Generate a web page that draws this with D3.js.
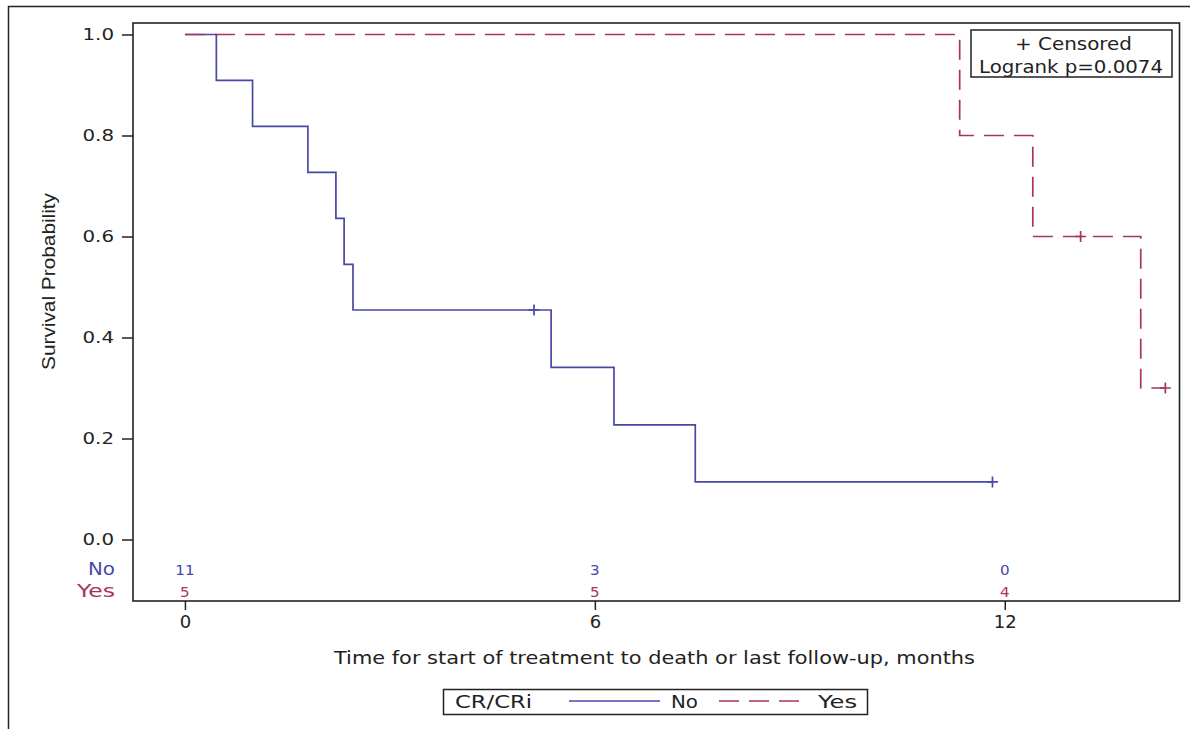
<!DOCTYPE html>
<html><head><meta charset="utf-8">
<script src="https://cdn.jsdelivr.net/npm/d3@7"></script>
<style>body{margin:0;background:#fff;} svg{display:block;}</style>
</head><body>
<script>
// ---- data ----
const noTimes   = [0, 0.46, 0.99, 1.80, 2.21, 2.33, 2.46, 5.36, 6.28, 7.47, 11.82];
const noSurv    = [1.0, 0.909, 0.818, 0.727, 0.636, 0.545, 0.4545, 0.341, 0.227, 0.114, 0.114];
const noCensorT = [5.11, 11.82];
const noCensorS = [0.4545, 0.114];
const yesTimes  = [0, 11.34, 12.41, 13.99, 14.35];
const yesSurv   = [1.0, 0.8, 0.6, 0.3, 0.3];
const yesCensorT = [13.11, 14.35];
const yesCensorS = [0.6, 0.3];
const xTicks = [0, 6, 12];
const yTicks = [0.0, 0.2, 0.4, 0.6, 0.8, 1.0];
const riskTimes = [0, 6, 12];
const riskNo  = [11, 3, 0];
const riskYes = [5, 5, 4];
const groups = ["No", "Yes"];
const pValue = "0.0074";

const W = 1195, H = 729;
const blue = "#4848a8", red = "#a8345a";
const font = "DejaVu Sans, Verdana, sans-serif";

const svg = d3.select("body").append("svg").attr("width", W).attr("height", H);

function stretch(sel, f) {
  sel.each(function() {
    const l = this.getComputedTextLength();
    d3.select(this).attr("textLength", l * f).attr("lengthAdjust", "spacingAndGlyphs");
  });
}
function fit(sel, w) {
  sel.attr("textLength", w).attr("lengthAdjust", "spacingAndGlyphs");
}

// outer frame (top & left)
svg.append("path").attr("d", "M8.5,729 L8.5,6.5 L1190,6.5").attr("fill","none").attr("stroke","#222").attr("stroke-width",1.5);

const x = d3.scaleLinear().domain([-0.76, 14.55]).range([133, 1179]);
const y = d3.scaleLinear().domain([0, 1]).range([539.5, 34.5]);
const L = 133, R = 1179.5, T = 23, B = 601;

// plot frame
svg.append("rect").attr("x", L).attr("y", T).attr("width", R - L).attr("height", B - T)
  .attr("fill","none").attr("stroke","#222").attr("stroke-width",1.6);

// y axis
const yAxis = d3.axisLeft(y).tickValues(yTicks).tickFormat(d3.format(".1f")).tickSize(11).tickPadding(8);
const gy = svg.append("g").attr("transform", `translate(${L},0)`).call(yAxis);
gy.select(".domain").remove();
gy.selectAll("line").attr("stroke","#222").attr("stroke-width",1.5);
gy.selectAll("text").attr("font-family", font).attr("font-size", 16.5).attr("fill","#222");
stretch(gy.selectAll("text"), 1.2);

// x axis
const xAxis = d3.axisBottom(x).tickValues(xTicks).tickSize(9).tickPadding(5);
const gx = svg.append("g").attr("transform", `translate(0,${B})`).call(xAxis);
gx.select(".domain").remove();
gx.selectAll("line").attr("stroke","#222").attr("stroke-width",1.5);
gx.selectAll("text").attr("font-family", font).attr("font-size", 18).attr("fill","#222");

// axis labels
fit(svg.append("text").attr("transform", "translate(55,281.5) rotate(-90)").attr("text-anchor","middle")
  .attr("font-family","Liberation Sans, Arial, sans-serif").attr("font-size",18).attr("fill","#222")
  .text("Survival Probability"), 177);
fit(svg.append("text").attr("x", 654.5).attr("y", 664).attr("text-anchor","middle")
  .attr("font-family", font).attr("font-size",18).attr("fill","#222")
  .text("Time for start of treatment to death or last follow-up, months"), 641);

// curves
const line = d3.line().x(d => x(d[0])).y(d => y(d[1])).curve(d3.curveStepAfter);
const noData = noTimes.map((t,i) => [t, noSurv[i]]);
const yesData = yesTimes.map((t,i) => [t, yesSurv[i]]);
svg.append("path").attr("d", line(noData)).attr("fill","none").attr("stroke", blue).attr("stroke-width",1.7);
svg.append("path").attr("d", line(yesData)).attr("fill","none").attr("stroke", red).attr("stroke-width",1.7)
  .attr("stroke-dasharray","20,10");

// censor marks
function censor(ts, ss, col) {
  const s = 5.5;
  ts.forEach((t,i) => {
    const cx = x(t), cy = y(ss[i]);
    svg.append("path").attr("d", `M${cx-s},${cy} L${cx+s},${cy} M${cx},${cy-s} L${cx},${cy+s}`)
      .attr("stroke", col).attr("stroke-width",1.7).attr("fill","none");
  });
}
censor(noCensorT, noCensorS, blue);
censor(yesCensorT, yesCensorS, red);

// at-risk table
const riskY = [575, 597];
const labelW = [27, 38];
[[riskNo, blue], [riskYes, red]].forEach(([vals, col], gi) => {
  fit(svg.append("text").attr("x", 115).attr("y", riskY[gi]).attr("text-anchor","end")
    .attr("font-family", font).attr("font-size",17).attr("fill", col).text(groups[gi]), labelW[gi]);
  riskTimes.forEach((t,i) => {
    const tx = svg.append("text").attr("x", x(t)).attr("y", riskY[gi]).attr("text-anchor","middle")
      .attr("font-family", font).attr("font-size",13.5).attr("fill", col).text(vals[i]);
    stretch(tx, 1.12);
  });
});

// inset legend
svg.append("rect").attr("x", 971).attr("y", 30).attr("width", 201).attr("height", 47)
  .attr("fill","#fff").attr("stroke","#222").attr("stroke-width",1.5);
fit(svg.append("text").attr("x", 1073.5).attr("y", 50).attr("text-anchor","middle")
  .attr("font-family", font).attr("font-size",17.5).attr("fill","#222").text("+ Censored"), 117);
fit(svg.append("text").attr("x", 1071).attr("y", 73).attr("text-anchor","middle")
  .attr("font-family", font).attr("font-size",17.5).attr("fill","#222").text("Logrank p=" + pValue), 184);

// bottom legend
svg.append("rect").attr("x", 443.5).attr("y", 689.5).attr("width", 424).attr("height", 25)
  .attr("fill","#fff").attr("stroke","#222").attr("stroke-width",1.5);
fit(svg.append("text").attr("x", 455).attr("y", 708).attr("font-family", font).attr("font-size",17.5).attr("fill","#222").text("CR/CRi"), 77);
svg.append("line").attr("x1", 569).attr("x2", 660).attr("y1", 701).attr("y2", 701).attr("stroke", blue).attr("stroke-width",1.6);
fit(svg.append("text").attr("x", 671).attr("y", 708).attr("font-family", font).attr("font-size",17.5).attr("fill","#222").text(groups[0]), 27);
svg.append("line").attr("x1", 719).attr("x2", 799).attr("y1", 701).attr("y2", 701).attr("stroke", red).attr("stroke-width",1.6).attr("stroke-dasharray","20,10");
fit(svg.append("text").attr("x", 818).attr("y", 708).attr("font-family", font).attr("font-size",17.5).attr("fill","#222").text(groups[1]), 39);
</script>
</body></html>
